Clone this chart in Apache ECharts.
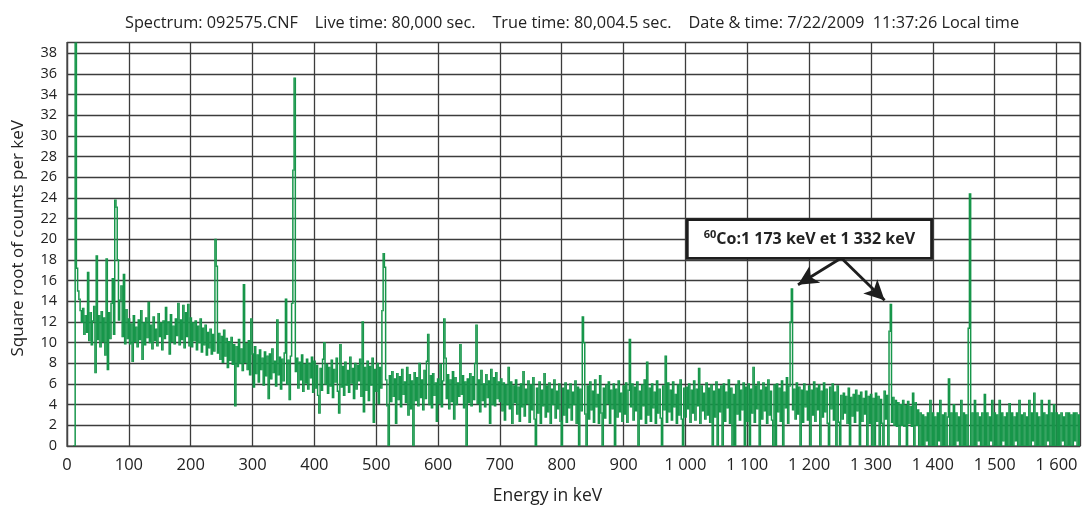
<!DOCTYPE html>
<html>
<head>
<meta charset="utf-8">
<script src="https://cdn.jsdelivr.net/npm/echarts@6/dist/echarts.min.js"></script>
<style>
html,body{margin:0;padding:0;background:#fff;}
#chart{width:1085px;height:510px;}
</style>
</head>
<body>
<div id="chart"></div>
<script>
const stepKeV = 2;
const blockStarts = [12, 100, 200, 300, 400, 500, 600, 700, 800, 900, 1000, 1100, 1200, 1300, 1400, 1500, 1600];
const b0012 = [0,45,17.2,15.0,14.2,13.1,12.0,13.3,10.8,12.6,11.0,16.8,10.2,12.9,9.8,12.1,13.5,7.1,18.4,10.3,12.6,9.6,13.0,10.1,12.4,8.8,18.1,7.4,12.9,10.4,13.8,16.2,10.8,23.8,23.1,18.0,12.2,14.1,15.5,10.6,16.6,9.9,13.2,10.4];
const b0100 = [12.3,9.9,11.8,8.2,12.6,10.1,11.5,9.6,12.2,10.3,13.1,8.4,11.9,9.8,12.4,10.5,13.9,10.0,11.7,9.4,12.5,10.2,11.3,9.7,12.8,10.6,11.9,9.3,12.1,10.4,13.4,10.8,12.0,8.9,12.7,10.1,11.6,9.9,12.3,10.7,13.8,9.8,12.2,10.3,13.6,9.5,12.9,10.6,13.7,9.7];
const b0200 = [12.4,9.6,11.9,10.2,12.1,9.3,11.6,10.0,12.3,9.1,11.4,9.8,11.7,8.8,11.0,9.5,11.3,8.9,10.8,9.2,20.0,17.4,9.0,10.9,8.4,10.6,8.1,11.2,8.7,10.4,7.6,10.1,8.3,10.5,7.9,9.8,3.9,9.6,7.7,10.3,8.0,9.4,7.3,15.6,8.1,9.9,7.4,10.2,6.9,12.3];
const b0300 = [8.9,5.7,9.6,7.0,8.8,6.2,9.3,7.4,8.5,5.9,9.1,6.8,8.7,4.6,8.9,6.5,9.4,7.1,8.2,5.8,12.2,6.9,8.6,5.5,8.4,6.3,9.0,14.2,6.0,8.3,4.5,8.7,13.8,26.7,35.6,7.2,8.5,5.6,8.1,6.4,8.8,5.3,7.9,6.1,8.4,5.5,8.0,6.6,8.6,5.2];
const b0400 = [8.2,5.6,7.8,4.9,3.2,7.5,5.4,8.4,10.0,6.0,7.9,5.1,7.6,5.8,8.3,4.7,7.4,6.2,8.5,5.3,3.2,9.8,5.7,7.7,4.9,8.1,5.9,7.3,5.2,8.6,6.1,7.5,4.6,8.0,5.5,7.8,6.3,8.4,4.8,12.0,3.3,7.6,5.4,8.2,4.4,7.7,5.9,8.5,2.3,7.4];
const b0500 = [5.3,8.0,4.1,7.6,5.6,13.1,18.6,17.3,6.4,3.9,0,6.8,4.3,7.2,4.8,6.5,2.2,7.0,4.5,6.7,3.8,7.4,5.0,6.2,4.2,7.6,3.0,6.9,3.6,6.3,0,7.1,4.4,6.6,3.9,8.0,4.7,6.4,3.5,7.3,4.6,8.2,10.8,4.0,6.8,3.7,7.0,4.9,6.1,2.4];
const b0600 = [6.5,4.1,7.9,3.8,6.3,12.3,8.5,4.6,6.9,3.6,6.4,4.3,7.2,2.6,6.6,4.0,6.1,4.8,9.8,5.0,6.8,3.7,6.2,0,6.5,4.2,7.0,3.9,6.7,4.5,8.0,11.7,4.1,6.4,3.3,7.3,4.4,6.0,3.8,6.9,4.7,6.3,2.2,7.4,4.0,6.6,3.9,7.1,4.6,6.2];
const b0700 = [4.3,6.5,3.4,6.1,2.5,5.9,4.0,7.6,3.6,6.2,2.2,5.8,4.2,6.4,3.1,5.7,2.4,6.0,3.8,7.2,2.9,5.5,4.1,6.3,2.3,5.9,3.5,6.6,2.6,0,5.6,3.2,6.2,2.2,5.4,3.9,7.0,2.8,5.8,3.3,6.1,2.2,5.5,4.0,6.4,2.7,5.3,3.6,6.0,2.4];
const b0800 = [0,5.6,3.0,6.1,2.3,5.4,3.7,6.0,2.5,5.2,4.0,6.3,2.2,5.7,0,5.5,3.4,12.5,10.0,3.1,0,5.8,2.6,6.2,3.5,5.3,2.3,6.4,3.8,5.0,2.2,6.8,3.2,0,5.6,2.7,5.9,4.1,6.2,2.2,5.4,3.6,6.0,0,5.5,2.8,6.3,3.3,5.1,2.4];
const b0900 = [5.8,3.1,6.1,2.3,5.4,10.3,3.8,6.0,2.5,5.7,3.4,6.2,0,5.3,2.6,5.9,3.9,6.4,2.2,8.1,3.0,5.6,2.4,6.0,3.7,5.2,2.2,6.3,3.2,5.5,2.7,0,5.8,3.5,8.7,2.3,6.1,3.3,5.4,2.5,6.2,3.8,5.0,2.2,5.9,3.0,6.4,2.6,0,5.6];
const b1000 = [2.8,5.7,3.6,6.0,2.3,5.4,3.2,6.3,2.5,5.5,3.9,7.5,2.2,5.8,3.4,5.1,2.6,6.1,3.0,5.6,2.3,5.9,0,5.3,2.8,6.2,0,5.5,3.3,5.8,0,6.0,2.4,5.2,3.7,6.4,2.2,5.6,0,5.0,0,5.9,3.1,6.3,2.5,5.4,3.5,6.1,0,5.7];
const b1100 = [2.4,6.0,0,5.5,3.2,7.6,2.3,5.8,3.6,6.2,0,5.4,2.6,6.1,3.4,5.7,2.2,6.4,3.0,5.3,2.5,0,5.9,0,6.0,3.3,5.6,2.4,6.3,0,5.2,3.7,6.6,2.2,5.8,12.0,15.2,3.5,5.5,2.6,6.1,3.1,5.7,0,5.4,2.3,6.0,3.8,5.3,2.5];
const b1200 = [5.8,0,5.4,3.0,6.2,2.4,5.6,3.5,5.9,0,5.3,2.8,6.1,3.3,5.5,2.2,0,5.7,3.6,6.0,2.5,5.2,0,5.8,2.3,0,4.9,2.6,5.1,3.2,4.8,2.2,5.6,0,4.7,2.9,5.0,2.3,5.4,3.4,4.9,0,5.2,2.4,4.6,3.1,5.3,0,4.8,2.2];
const b1300 = [5.0,0,4.6,0,5.1,2.4,4.8,0,4.5,2.2,0,5.3,2.6,4.9,0,11.1,13.7,2.3,4.7,2.0,4.4,1.9,4.2,0,4.0,2.0,4.4,1.9,3.9,0,4.3,2.2,3.8,1.9,5.1,0,4.2,2.0,3.5,0,3.2,0,3.0,0,2.8,0.5,3.2,0,4.4,0];
const b1400 = [3.2,0,2.8,0,3.2,0.5,4.4,0,3.0,0,3.2,0,2.8,6.5,0,3.2,0,4.0,0,3.2,0.5,2.8,0,4.4,0,3.2,0,3.0,0,11.4,24.4,0,3.2,0,4.4,0,3.2,0.5,2.8,0,3.2,0,5.0,0,3.2,0,2.8,0.5,4.4,0];
const b1500 = [3.2,0,3.0,0,4.4,0,3.2,0.5,2.8,0,3.2,0,4.1,0,3.2,0,2.8,0.5,3.2,0,4.4,0,3.0,0,3.2,0,2.8,0,4.4,0,3.2,0.5,5.1,0,3.2,0,2.8,0,4.4,0,3.2,0,3.0,0.5,4.4,0,3.2,0,4.0,0];
const b1600 = [3.2,0,3.0,0,3.2,0.5,2.8,0,3.2,0,3.2,0,3.0,0,3.2,0.5,3.2,0,3.0,0];
const blocks = [b0012,b0100,b0200,b0300,b0400,b0500,b0600,b0700,b0800,b0900,b1000,b1100,b1200,b1300,b1400,b1500,b1600];

// Axis ranges / ticks
const xMin = 0, xMax = 1638, xStep = 100;
const yMin = 0, yMax = 39.05, yStep = 2;

// Texts
const titleText = 'Spectrum: 092575.CNF    Live time: 80,000 sec.    True time: 80,004.5 sec.    Date & time: 7/22/2009  11:37:26 Local time';
const xName = 'Energy in keV';
const yName = 'Square root of counts per keV';
const noteSup = '60';
const noteText = 'Co:1 173 keV et 1 332 keV';
// Annotation anchor values (keV, sqrt counts)
const noteBox = [[1003, 21.9], [1398, 18.16]];
const arrowFrom = [1252, 18.2];
const arrowTargets = [[1182, 15.6], [1322, 14.1]];

// [energy, value, previous value] -> each sample drawn as a histogram stroke from the previous level
const series = [];
blocks.forEach((b, k) => b.forEach((v, i) => {
  const prev = series.length ? series[series.length - 1][1] : v;
  series.push([blockStarts[k] + i * stepKeV, v, prev]);
}));

const FONT = 'Open Sans';
const GREEN = '#17964a';
const chart = echarts.init(document.getElementById('chart'), null, {renderer: 'canvas'});
const fmtThousands = v => String(v).replace(/\B(?=(\d{3})+(?!\d))/g, ' ');

function renderStroke(params, api) {
  const e = api.value(0), v = api.value(1), pv = api.value(2);
  const hi = api.coord([e, Math.max(v, pv)]);
  const lo = api.coord([e, Math.min(v, pv)]);
  const w = api.size([stepKeV, 0])[0];
  return {
    type: 'rect',
    shape: {x: hi[0] - w, y: hi[1] - 0.7, width: w + 0.25, height: lo[1] - hi[1] + 1.4},
    style: {fill: GREEN}
  };
}

chart.setOption({
  animation: false,
  backgroundColor: '#fff',
  title: {
    text: titleText, left: 567, top: 10, textAlign: 'center',
    textStyle: {fontFamily: FONT, fontSize: 16.3, fontWeight: 'normal', color: '#222'}
  },
  grid: {left: 67, right: 5, top: 42.5, bottom: 56.7, show: true, borderColor: '#444', borderWidth: 1.2},
  xAxis: {
    type: 'value', min: xMin, max: xMax, interval: xStep,
    name: xName, nameLocation: 'middle', nameGap: 41,
    nameTextStyle: {fontFamily: FONT, fontSize: 17.5, color: '#222', padding: [0, 52, 0, 0]},
    axisLine: {lineStyle: {color: '#444', width: 1.2}},
    axisTick: {show: false},
    axisLabel: {fontFamily: FONT, fontSize: 16.5, color: '#222', margin: 11, showMaxLabel: false, formatter: fmtThousands},
    splitLine: {show: true, lineStyle: {color: '#3c3c3c', width: 1.3}}
  },
  yAxis: {
    type: 'value', min: yMin, max: yMax, interval: yStep,
    name: yName, nameLocation: 'middle', nameGap: 40, nameRotate: 90,
    nameTextStyle: {fontFamily: FONT, fontSize: 17, color: '#222', padding: [0, 0, 0, 12]},
    axisLine: {show: true, lineStyle: {color: '#444', width: 1.2}},
    axisTick: {show: false},
    axisLabel: {fontFamily: FONT, fontSize: 14.5, color: '#222', margin: 10, showMaxLabel: false},
    splitLine: {show: true, lineStyle: {color: '#3c3c3c', width: 1.3}}
  },
  series: [{
    type: 'custom', data: series, renderItem: renderStroke, clip: true, z: 3,
    encode: {x: 0, y: [1, 2]},
    silent: true
  }, {
    type: 'line', data: [], silent: true,
    markLine: {
      silent: true, symbol: ['none', 'arrow'], animation: false,
      label: {show: false},
      lineStyle: {color: '#1e1e1e', width: 2.8, type: 'solid'},
      data: arrowTargets.map(t => [{coord: arrowFrom, symbolSize: 0}, {coord: t, symbolSize: [15, 20]}])
    }
  }]
});

// Annotation box placed through the axes' own scales
const p0 = chart.convertToPixel({gridIndex: 0}, noteBox[0]);
const p1 = chart.convertToPixel({gridIndex: 0}, noteBox[1]);
chart.setOption({
  graphic: [
    {type: 'rect', z: 10, shape: {x: p0[0], y: p0[1], width: p1[0] - p0[0], height: p1[1] - p0[1]},
     style: {fill: '#fff', stroke: '#1e1e1e', lineWidth: 2.8}},
    {type: 'text', z: 11, x: (p0[0] + p1[0]) / 2, y: (p0[1] + p1[1]) / 2,
     style: {
       text: '{s|' + noteSup + '}{m|' + noteText + '}',
       align: 'center', verticalAlign: 'middle',
       rich: {
         s: {fontFamily: FONT, fontSize: 11, fontWeight: 'bold', fill: '#222', verticalAlign: 'top', lineHeight: 20},
         m: {fontFamily: FONT, fontSize: 16, fontWeight: 'bold', fill: '#222', lineHeight: 20}
       }
     }}
  ]
});
</script>
</body>
</html>
